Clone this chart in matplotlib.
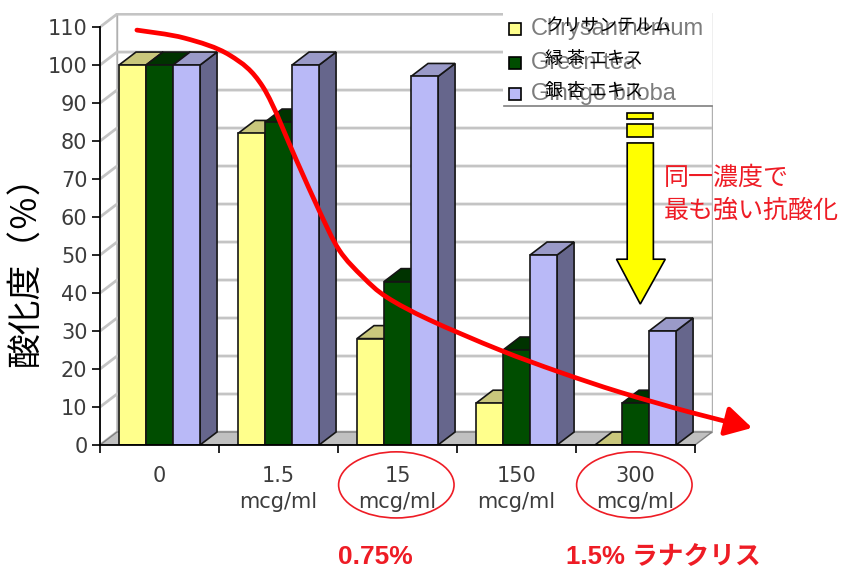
import numpy as np
import matplotlib
matplotlib.use('Agg')
import matplotlib.pyplot as plt
from matplotlib.patches import Polygon, Rectangle, Ellipse, FancyArrowPatch
from matplotlib.path import Path

plt.rcParams['font.family'] = ['Liberation Sans', 'Noto Sans CJK JP']

# data (% oxidation)
categories = ['0', '1.5\nmcg/ml', '15\nmcg/ml', '150\nmcg/ml', '300\nmcg/ml']
chrysanthemum = [100, 82, 28, 11, 0]
green_tea = [100, 85, 43, 25, 11]
ginkgo = [100, 100, 97, 50, 30]
series_en = ['Chrysanthemum', 'Green tea', 'Ginkgo biloba']
series_jp = ['クリサンテルム', '緑 茶 エキス', '銀 杏 エキス']
y_ticks = list(range(0, 111, 10))

# hand drawn red trend arrow (category index, %)
trend_x = [-0.19, 0.21, 0.59, 0.87, 1.15, 1.34, 1.51, 1.71, 1.91, 2.27, 2.86, 3.36, 3.87, 4.45, 4.98]
trend_y = [109.2, 107.1, 102.6, 94.2, 75.0, 61.8, 51.3, 44.2, 38.9, 32.9, 25.0, 19.2, 13.9, 8.7, 4.5]

# colours: front, top, side
colors = [('#ffff8c', '#c9c77c', '#9c9a50'),
          ('#004d00', '#003300', '#002200'),
          ('#b9b9f7', '#9a9ac8', '#66668c')]
EDGE = '#151515'
DX, DY = 0.143, 3.42   # depth of the 3d effect in data units
W = 0.227              # bar width
TICK_FONT = 'DejaVu Sans'

fig = plt.figure(figsize=(8.5, 5.72), dpi=100)
ax = fig.add_axes([100/850, 1-445/572, 613/850, 432/572])
ax.set_xlim(-0.5, 4.651)
ax.set_ylim(0, 113.7)
ax.patch.set_visible(False)

# walls and floor
nc = len(categories)
ax.add_patch(Polygon([(-0.5+DX, DY), (nc-0.5+DX, DY), (nc-0.5+DX, 110+DY), (-0.5+DX, 110+DY)],
                     fc='white', ec='#b0b0b0', lw=1, zorder=0.2))
ax.add_patch(Polygon([(-0.5, 0), (-0.5+DX, DY), (-0.5+DX, 110+DY), (-0.5, 110)],
                     fc='white', ec='#b0b0b0', lw=1, zorder=0.2))
for v in y_ticks:
    ax.plot([-0.5, -0.5+DX, nc-0.5+DX], [v, v+DY, v+DY], color='#c4c4c4', lw=2, zorder=0.3,
            solid_capstyle='butt')
ax.add_patch(Polygon([(-0.5, 0), (nc-0.5, 0), (nc-0.5+DX, DY), (-0.5+DX, DY)],
                     fc='#c0c0c0', ec='#808080', lw=1, zorder=0.4))

# bars
all_series = [chrysanthemum, green_tea, ginkgo]
for i in range(nc):
    for s, vals in enumerate(all_series):
        h = vals[i]
        x0 = i - 1.5*W + s*W
        front, top, side = colors[s]
        ax.add_patch(Polygon([(x0+W, 0), (x0+W+DX, DY), (x0+W+DX, h+DY), (x0+W, h)],
                             fc=side, ec=EDGE, lw=1.2, zorder=1))
        ax.add_patch(Polygon([(x0, h), (x0+DX, h+DY), (x0+W+DX, h+DY), (x0+W, h)],
                             fc=top, ec=EDGE, lw=1.2, zorder=1))
        ax.bar([x0], [h], width=W, align='edge', color=front, edgecolor=EDGE, lw=1.2, zorder=1)

# axes
for sp in ['top', 'right']:
    ax.spines[sp].set_visible(False)
ax.spines['left'].set_bounds(0, 110)
ax.spines['bottom'].set_bounds(-0.5, nc-0.5)
ax.spines['left'].set_linewidth(1.3)
ax.spines['bottom'].set_linewidth(1.3)
ax.set_yticks(y_ticks)
ax.set_yticklabels([str(v) for v in y_ticks], fontsize=15, color='#3c3c3c', family=TICK_FONT)
ax.tick_params(axis='y', length=6, width=1.2, pad=3)
ax.set_xticks(range(nc))
ax.set_xticklabels(categories, fontsize=15, color='#3c3c3c', linespacing=1.4, family=TICK_FONT)
ax.set_xticks(np.arange(-0.5, nc, 1), minor=True)
ax.tick_params(axis='x', which='major', length=0, pad=15)
ax.tick_params(axis='x', which='minor', length=6, width=1.2)

# legend box
ax.add_patch(Rectangle((0.657, 0.785), 0.343, 0.215, transform=ax.transAxes,
                       fc='white', ec='none', zorder=4))
ax.plot([0.659, 1.0], [0.785, 0.785], transform=ax.transAxes, color='#7f7f7f', lw=1.2, zorder=4)
ax.plot([1.0, 1.0], [0.785, 1.0], transform=ax.transAxes, color='#b0b0b0', lw=1, zorder=4)
leg_y = [0.962, 0.885, 0.812]
for s in range(3):
    ax.plot([0.677], [leg_y[s]], 's', ms=8, mfc=colors[s][0], mec='black', mew=1.2,
            transform=ax.transAxes, zorder=5, clip_on=False)
    ax.text(0.703, leg_y[s], series_en[s], transform=ax.transAxes, fontsize=17,
            color='#7c7c7c', va='center', ha='left', zorder=5)
    ax.text(0.726, leg_y[s] + 0.008, series_jp[s], transform=ax.transAxes, fontsize=13,
            color='black', va='center', ha='left', zorder=6, family='Noto Sans CJK JP')

# red trend curve (Catmull-Rom through the read points)
pts = np.column_stack([trend_x, trend_y])
ext = np.vstack([pts[0], pts, pts[-1]])
verts = [pts[0]]
codes = [Path.MOVETO]
for k in range(len(pts) - 1):
    p0, p1, p2, p3 = ext[k], ext[k+1], ext[k+2], ext[k+3]
    verts += [p1 + (p2 - p0)/6, p2 - (p3 - p1)/6, p2]
    codes += [Path.CURVE4]*3
arrow = FancyArrowPatch(path=Path(verts, codes), arrowstyle='-|>,head_length=0.8,head_width=0.45',
                        mutation_scale=20, color='#ff0000', lw=3.4, zorder=7, clip_on=False)
ax.add_patch(arrow)

# yellow down arrow
ax.add_patch(Rectangle((3.93, 85.8), 0.22, 1.6, fc='#ffff00', ec='black', lw=1.2, zorder=6))
ax.add_patch(Rectangle((3.93, 81.1), 0.22, 3.4, fc='#ffff00', ec='black', lw=1.2, zorder=6))
ax.add_patch(Polygon([(3.93, 79.5), (4.15, 79.5), (4.15, 48.9), (4.25, 48.9), (4.04, 37.1),
                      (3.84, 48.9), (3.93, 48.9)], fc='#ffff00', ec='black', lw=1.2, zorder=6))

# red notes
ax.text(4.235, 70.3, '同一濃度で', color='#ee1c25', fontsize=18, va='center', ha='left',
        family='Noto Sans CJK JP', clip_on=False)
ax.text(4.235, 61.6, '最も強い抗酸化', color='#ee1c25', fontsize=18, va='center', ha='left',
        family='Noto Sans CJK JP', clip_on=False)
for cx in [2, 4]:
    ax.add_patch(Ellipse((cx - 0.01, -10.5), 0.97, 17.4, fill=False, ec='#ee1c25', lw=1.2,
                         clip_on=False))
ax.text(1.81, -29.5, '0.75%', color='#ee1c25', fontsize=19, fontweight='bold',
        ha='center', va='center', clip_on=False)
ax.text(4.23, -29.5, '1.5% ラナクリス', color='#ee1c25', fontsize=18.5, fontweight='bold',
        ha='center', va='center', clip_on=False)

fig.text(26/850, 1-263/572, '酸化度（％）', rotation=90, fontsize=25, ha='center', va='center',
         family='Noto Sans CJK JP')

fig.savefig('out.png', dpi=100)
